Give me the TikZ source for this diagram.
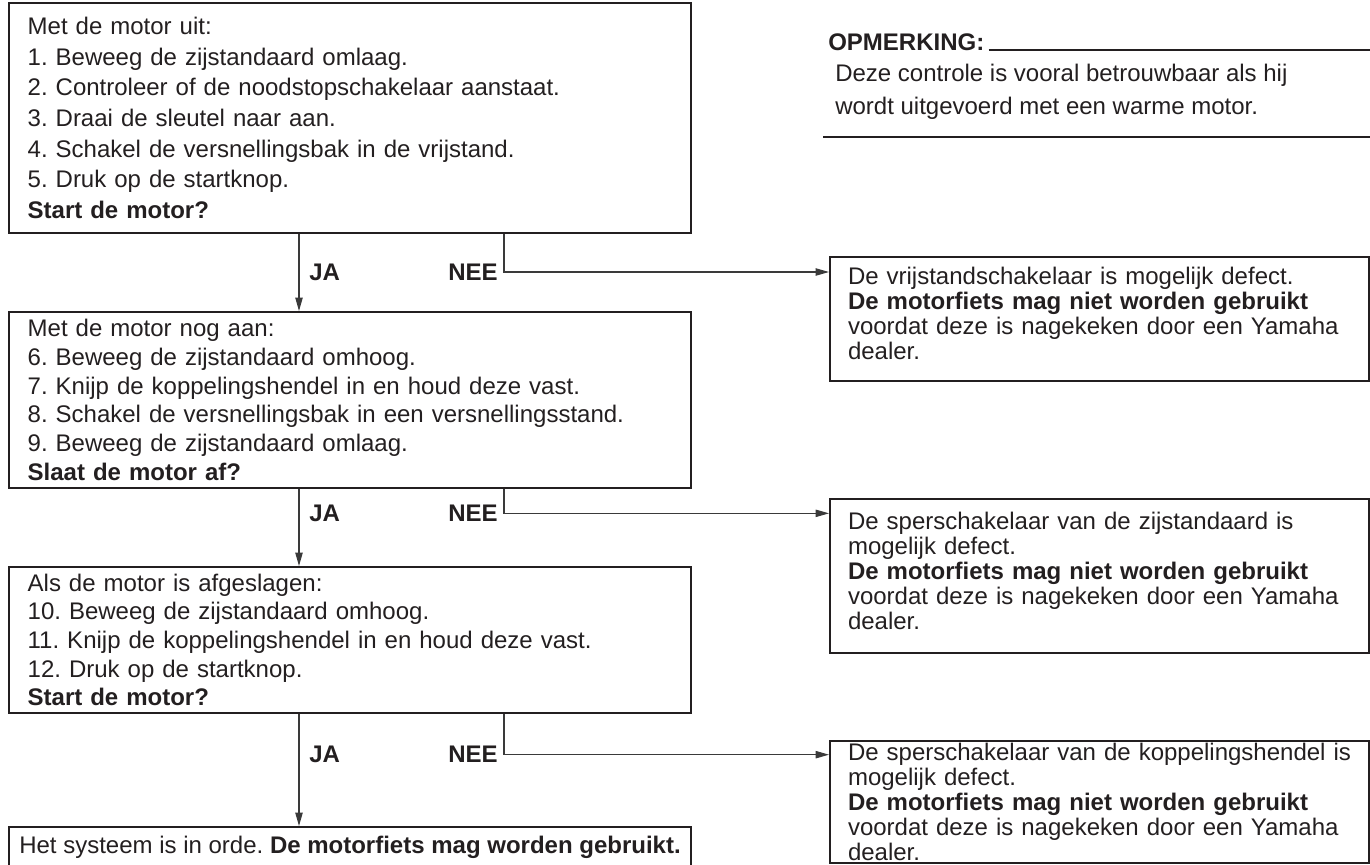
\documentclass[tikz,border=0pt]{standalone}
\usepackage{fontspec}
\setmainfont{Liberation Sans}
\usetikzlibrary{positioning,arrows.meta}
\definecolor{ink}{HTML}{231F20}
\definecolor{wire}{HTML}{3A3A3A}
\frenchspacing

\begin{document}
\begin{tikzpicture}[
    x=0.75pt, y=-0.75pt,
    font=\fontsize{18}{21.5}\selectfont,
    text=ink,
    stepbox/.style={rectangle, draw=ink, line width=1.5pt, text width=483.5pt, inner xsep=14pt, inner ysep=0pt, align=left, anchor=north west},
    donebox/.style={rectangle, draw=ink, line width=1.5pt, minimum width=511.5pt, inner xsep=6pt, inner ysep=0pt, align=center},
    faultbox/.style={rectangle, draw=ink, line width=1.5pt, text width=377.25pt, inner xsep=13.5pt, inner ysep=0pt, align=left, anchor=north west, font=\fontsize{18}{18.8}\selectfont},
    answer/.style={font=\fontsize{18}{21.5}\selectfont\bfseries, inner sep=0pt},
    arrow/.style={-{Triangle[length=10pt,width=5.5pt]}, draw=wire, line width=0.8pt},
    rule/.style={draw=ink, line width=0.9pt}
]
    \useasboundingbox (0,0) rectangle (1370,864);

    % Steps
    \node[stepbox, minimum height=172.5pt, font=\fontsize{18}{23}\selectfont] (q1) at (8,2) {Met de motor uit:\\
        1. Beweeg de zijstandaard omlaag.\\
        2. Controleer of de noodstopschakelaar aanstaat.\\
        3. Draai de sleutel naar aan.\\
        4. Schakel de versnellingsbak in de vrijstand.\\
        5. Druk op de startknop.\\
        \textbf{Start de motor?}};
    \node[stepbox, minimum height=132pt, below=57.75pt of q1] (q2) {Met de motor nog aan:\\
        6. Beweeg de zijstandaard omhoog.\\
        7. Knijp de koppelingshendel in en houd deze vast.\\
        8. Schakel de versnellingsbak in een versnellingsstand.\\
        9. Beweeg de zijstandaard omlaag.\\
        \textbf{Slaat de motor af?}};
    \node[stepbox, minimum height=109.5pt, below=57.75pt of q2] (q3) {Als de motor is afgeslagen:\\
        10. Beweeg de zijstandaard omhoog.\\
        11. Knijp de koppelingshendel in en houd deze vast.\\
        12. Druk op de startknop.\\
        \textbf{Start de motor?}};
    \node[donebox, minimum height=30pt, below=84pt of q3] (q4) {Het systeem is in orde. \textbf{De motorfiets mag worden gebruikt.}};

    % Faults
    \node[faultbox, minimum height=93pt] (r1) at (829,256) {De vrijstandschakelaar is mogelijk defect.\\
        \textbf{De motorfiets mag niet worden gebruikt}\\
        voordat deze is nagekeken door een Yamaha\\
        dealer.\rule[-9pt]{0pt}{9pt}};
    \node[faultbox, minimum height=115.5pt] (r2) at (829,498) {De sperschakelaar van de zijstandaard is\\
        mogelijk defect.\\
        \textbf{De motorfiets mag niet worden gebruikt}\\
        voordat deze is nagekeken door een Yamaha\\
        dealer.\rule[-8pt]{0pt}{8pt}};
    \node[faultbox, minimum height=91.5pt] (r3) at (829,740) {De sperschakelaar van de koppelingshendel is\\
        mogelijk defect.\\
        \textbf{De motorfiets mag niet worden gebruikt}\\
        voordat deze is nagekeken door een Yamaha\\
        dealer.};
    \coordinate[below=12pt of r1.north west] (r1in);
    \coordinate[below=11.5pt of r2.north west] (r2in);
    \coordinate[below=11pt of r3.north west] (r3in);

    % Note
    \node[answer, anchor=base west] (notehead) at (828,50) {OPMERKING:};
    \node[anchor=north west, align=left, inner sep=0pt, font=\fontsize{18}{24.75}\selectfont] (notebody) at (835,64) {Deze controle is vooral betrouwbaar als hij\\wordt uitgevoerd met een warme motor.};
    \draw[rule] ([xshift=3pt]notehead.base east) -- (notehead.base -| r1.east);
    \coordinate (ruleL) at (823,137);
    \draw[rule] (ruleL) -- (ruleL -| r1.east);

    % Arrows
    \coordinate (jx) at ([xshift=-38.25pt]q1.south);
    \coordinate (nx) at ([xshift=115.5pt]q1.south);

    \draw[arrow] (q1.south -| jx) -- (q2.north -| jx);
    \draw[arrow] (q1.south -| nx) |- (r1in);
    \node[answer, right=7.5pt] (ja1) at (jx |- r1in) {JA};
    \node[answer, left=4.5pt] (nee1) at (nx |- r1in) {NEE};

    \draw[arrow] (q2.south -| jx) -- (q3.north -| jx);
    \draw[arrow] (q2.south -| nx) |- (r2in);
    \node[answer, right=7.5pt] (ja2) at (jx |- r2in) {JA};
    \node[answer, left=4.5pt] (nee2) at (nx |- r2in) {NEE};

    \draw[arrow] (q3.south -| jx) -- (q4.north -| jx);
    \draw[arrow] (q3.south -| nx) |- (r3in);
    \node[answer, right=7.5pt] (ja3) at (jx |- r3in) {JA};
    \node[answer, left=4.5pt] (nee3) at (nx |- r3in) {NEE};

\end{tikzpicture}
\end{document}
